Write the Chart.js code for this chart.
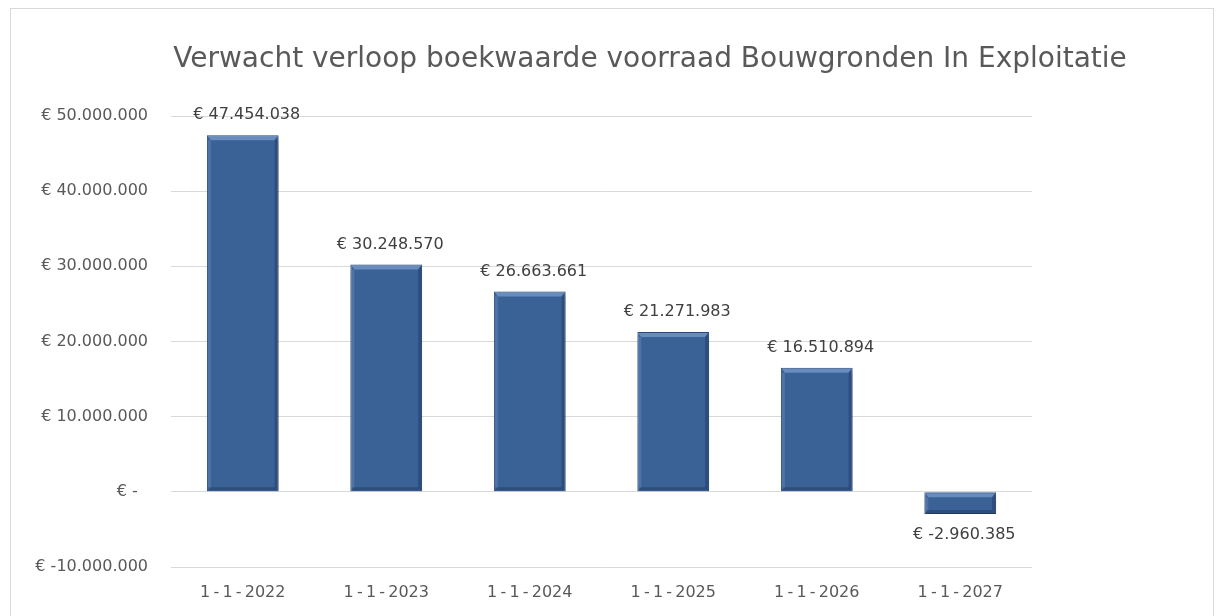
<!DOCTYPE html>
<html>
<head>
<meta charset="utf-8">
<script src="https://cdn.jsdelivr.net/npm/chart.js@4"></script>
<style>
  html, body { margin: 0; padding: 0; background: #fff; }
  #wrap { position: relative; width: 1218px; height: 616px; overflow: hidden; }
  #frame { position: absolute; left: 10px; top: 8px; width: 1204px; height: 700px; border: 1px solid #d9d9d9; box-sizing: border-box; }
  #chart { position: absolute; left: 0; top: 0; }
</style>
</head>
<body>
<div id="wrap">
  <div id="frame"></div>
  <canvas id="chart" width="1218" height="616"></canvas>
</div>
<script>
const labels = ['1-1-2022', '1-1-2023', '1-1-2024', '1-1-2025', '1-1-2026', '1-1-2027'];
const boekwaarde = [47454038, 30248570, 26663661, 21271983, 16510894, -2960385];
const yTicks = [-10000000, 0, 10000000, 20000000, 30000000, 40000000, 50000000];
const titel = 'Verwacht verloop boekwaarde voorraad Bouwgronden In Exploitatie';

const FONT = '"DejaVu Sans", sans-serif';

// dutch thousands separator, e.g. 47.454.038
function euro(v) {
  const s = Math.abs(Math.round(v)).toString().replace(/\B(?=(\d{3})+(?!\d))/g, '.');
  return '€ ' + (v < 0 ? '-' : '') + s;
}

// title centred on the whole frame, not just the plot area
const frameTitle = {
  id: 'frameTitle',
  afterDraw(chart) {
    const ctx = chart.ctx;
    ctx.save();
    ctx.font = '28px ' + FONT;
    ctx.fillStyle = '#595959';
    ctx.textAlign = 'center';
    ctx.textBaseline = 'middle';
    ctx.fillText(titel, 650, 60);
    ctx.restore();
  }
};

// soft drop shadow under the bars
const barShadow = {
  id: 'barShadow',
  beforeDatasetsDraw(chart) {
    const ctx = chart.ctx;
    ctx.save();
    ctx.shadowColor = 'rgba(0,0,0,0.35)';
    ctx.shadowBlur = 5;
    ctx.shadowOffsetY = 3;
    ctx.shadowOffsetX = 1;
  },
  afterDatasetsDraw(chart) {
    chart.ctx.restore();
  }
};

// bevelled edges + value labels
const barDecor = {
  id: 'barDecor',
  afterDatasetsDraw(chart) {
    const ctx = chart.ctx;
    const meta = chart.getDatasetMeta(0);
    ctx.save();
    meta.data.forEach((bar) => {
      const left = bar.x - bar.width / 2;
      const right = bar.x + bar.width / 2;
      const top = Math.min(bar.y, bar.base);
      const bottom = Math.max(bar.y, bar.base);
      // light top band
      ctx.fillStyle = 'rgba(140,175,220,0.55)';
      ctx.beginPath();
      ctx.moveTo(left + 1, top + 1);
      ctx.lineTo(right - 1, top + 1);
      ctx.lineTo(right - 4, top + 5);
      ctx.lineTo(left + 4, top + 5);
      ctx.closePath();
      ctx.fill();
      // darker right and bottom edges
      ctx.fillStyle = 'rgba(20,40,75,0.35)';
      ctx.beginPath();
      ctx.moveTo(right - 1, top + 1);
      ctx.lineTo(right - 1, bottom - 1);
      ctx.lineTo(right - 4, bottom - 4);
      ctx.lineTo(right - 4, top + 5);
      ctx.closePath();
      ctx.fill();
      ctx.beginPath();
      ctx.moveTo(left + 1, bottom - 1);
      ctx.lineTo(right - 1, bottom - 1);
      ctx.lineTo(right - 4, bottom - 4);
      ctx.lineTo(left + 4, bottom - 4);
      ctx.closePath();
      ctx.fill();
      ctx.fillStyle = 'rgba(120,155,205,0.3)';
      ctx.fillRect(left + 1, top + 5, 3, bottom - top - 9);
    });

    ctx.font = '16px ' + FONT;
    ctx.fillStyle = '#404040';
    ctx.textAlign = 'center';
    ctx.textBaseline = 'middle';
    meta.data.forEach((bar, i) => {
      const v = boekwaarde[i];
      const y = v >= 0 ? bar.y - 20 : bar.y + 21;
      ctx.fillText(euro(v), bar.x + 4, y);
    });
    ctx.restore();
  }
};

const data = {
  labels: labels,
  datasets: [{
    data: boekwaarde,
    backgroundColor: '#3b6297',
    borderColor: '#2b4c7c',
    borderWidth: 1,
    categoryPercentage: 1,
    barPercentage: 0.5
  }]
};

const config = {
  type: 'bar',
  data,
  options: {
    responsive: false,
    animation: false,
    layout: { padding: { left: 0, right: 186, top: 116, bottom: 0 } },
    plugins: {
      legend: { display: false },
      tooltip: { enabled: false },
      title: { display: false }
    },
    scales: {
      x: {
        grid: { display: false, drawTicks: false },
        border: { display: false },
        ticks: {
          color: '#595959',
          font: { family: FONT, size: 16 },
          padding: 16,
          callback: (v, i) => labels[i].replace(/-/g, '\u2009-\u2009')
        },
        afterFit(scale) { scale.height = 49; }
      },
      y: {
        min: -10000000,
        max: 50000000,
        afterBuildTicks(scale) { scale.ticks = yTicks.map(v => ({ value: v })); },
        grid: { color: '#d9d9d9', lineWidth: 1, drawTicks: false },
        border: { display: false },
        ticks: {
          color: '#595959',
          font: { family: FONT, size: 16 },
          padding: 23,
          callback: v => v === 0 ? '€ -  ' : euro(v)
        },
        afterFit(scale) { scale.width = 171; }
      }
    }
  },
  plugins: [barShadow, barDecor, frameTitle]
};

const myChart = new Chart(document.getElementById('chart'), config);
</script>
</body>
</html>
